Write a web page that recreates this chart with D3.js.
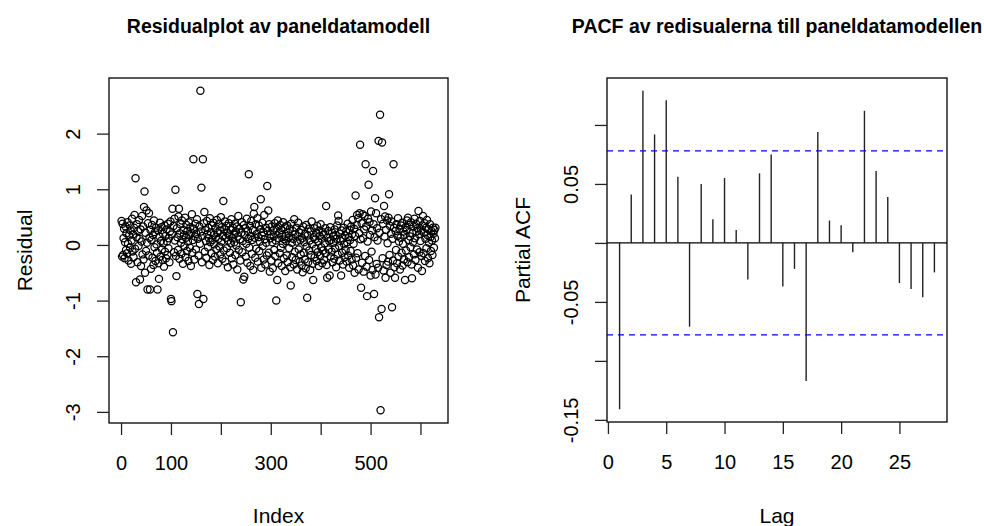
<!DOCTYPE html>
<html>
<head>
<meta charset="utf-8">
<script src="https://cdn.jsdelivr.net/npm/d3@7"></script>
<style>
  body { margin: 0; background: #fff; }
  text { font-family: "Liberation Sans", Arial, sans-serif; fill: #000; }
</style>
</head>
<body>
<svg id="chart" width="984" height="526"></svg>
<script>
"use strict";

// residuals of the panel data model, in index order (1..630)
const residuals = [
  0.43, -0.21, 0.38, -0.18, 0.12, 0.29, -0.24, 0.05, 0.33, -0.09, 0.21, -0.15, 0.41, 0.02, -0.28, 0.17, 0.35, -0.05, 0.26, -0.34, 0.08, 0.47, -0.12, 0.19, -0.22, 0.31, 0.54, -0.07, 1.20, -0.67,
  0.14, 0.37, -0.31, 0.25, -0.02, 0.45, 0.11, -0.62, 0.28, -0.38, 0.06, 0.52, -0.17, 0.33, -0.26, 0.68, 0.96, -0.50, 0.22, -0.11, 0.62, 0.04, -0.80, 0.39, -0.19, 0.57, 0.13, -0.80, 0.27, -0.43,
  0.09, 0.36, -0.23, 0.18, -0.36, 0.44, -0.04, 0.23, -0.29, 0.31, 0.01, -0.14, -0.80, 0.26, -0.33, -0.61, 0.15, 0.40, -0.21, 0.07, 0.32, -0.08, -0.27, 0.20, 0.03, -0.39, 0.35, -0.12, 0.16, -0.24,
  0.28, 0.06, -0.18, 0.38, -0.06, 0.12, -0.31, 0.24, 0.42, -0.97, -1.01, 0.19, 0.65, -1.57, 0.34, -0.13, 0.47, 0.08, 0.99, -0.20, -0.56, 0.30, 0.14, -0.09, 0.51, 0.65, -0.25, 0.21, 0.37, 0.04,
  -0.16, 0.44, 0.10, -0.34, 0.27, 0.18, -0.02, 0.49, -0.22, 0.13, 0.36, -0.11, 0.25, 0.06, -0.29, 0.41, 0.17, -0.05, 0.32, -0.38, 0.22, 0.55, -0.14, 0.09, 1.54, 0.29, -0.26, 0.15, 0.38, -0.08,
  0.20, 0.46, -0.88, 0.11, -0.19, -1.06, 0.33, 0.02, 2.77, 0.24, 1.03, -0.31, 0.16, 1.54, -0.97, 0.39, 0.59, -0.12, 0.27, 0.07, -0.23, 0.43, 0.19, -0.04, 0.31, 0.12, -0.36, 0.48, 0.05, 0.23,
  -0.15, 0.35, 0.09, -0.27, 0.40, 0.18, 0.01, -0.21, 0.30, 0.14, -0.08, 0.45, 0.22, -0.33, 0.11, 0.37, -0.03, 0.26, -0.17, 0.50, 0.06, 0.32, -0.25, 0.16, 0.79, -0.10, 0.28, 0.42, -0.30, 0.13,
  0.34, -0.06, 0.21, -0.40, 0.08, 0.39, 0.17, -0.14, 0.27, 0.03, 0.46, -0.24, 0.12, 0.31, -0.35, 0.19, 0.05, 0.38, -0.18, 0.24, -0.01, 0.33, -0.44, 0.15, 0.52, -0.09, 0.29, 0.10, -0.28, -1.03,
  0.22, 0.41, -0.13, 0.07, -0.62, 0.36, -0.57, 0.18, 0.30, -0.21, 0.02, 0.47, -0.32, 0.25, 0.11, 1.27, -0.05, 0.34, -0.38, 0.16, 0.43, -0.16, 0.09, 0.27, -0.45, 0.56, 0.68, 0.13, -0.23, 0.37,
  -0.07, 0.20, 0.48, -0.30, 0.14, 0.35, -0.11, 0.06, 0.28, 0.82, -0.41, 0.17, 0.40, -0.02, 0.23, -0.26, 0.54, 0.10, -0.35, 0.31, 0.04, -0.19, 1.06, 0.25, 0.62, -0.14, 0.37, -0.48, 0.12, 0.19,
  -0.28, 0.33, 0.05, -0.42, 0.26, 0.15, -0.09, 0.39, -0.20, 0.08, -1.00, 0.30, -0.63, 0.44, -0.33, 0.12, 0.21, -0.15, 0.36, -0.05, 0.27, -0.38, 0.18, 0.02, 0.41, -0.24, 0.10, 0.32, -0.47, 0.16,
  0.07, -0.19, 0.35, -0.31, 0.22, 0.13, -0.06, 0.29, -0.40, -0.73, 0.38, 0.04, -0.22, 0.25, 0.11, -0.35, 0.46, -0.12, 0.19, -0.27, 0.31, 0.06, -0.44, 0.15, 0.40, -0.08, 0.23, -0.30, 0.09, -0.17,
  0.27, -0.37, 0.12, -0.49, 0.33, -0.14, 0.05, -0.26, 0.20, -0.42, 0.36, -0.03, -0.95, 0.17, -0.31, 0.29, -0.10, 0.08, -0.45, 0.24, -0.18, 0.42, 0.01, -0.34, -0.63, 0.14, 0.30, -0.22, 0.10, -0.07,
  0.21, -0.29, 0.34, -0.13, 0.06, -0.38, 0.26, 0.16, -0.20, 0.37, -0.04, 0.11, -0.33, 0.23, -0.10, 0.19, -0.27, 0.03, 0.30, -0.15, 0.70, -0.36, -0.59, 0.13, 0.25, -0.08, 0.07, -0.55, 0.32, -0.21,
  0.09, -0.12, 0.22, -0.31, 0.15, 0.04, -0.25, 0.28, -0.06, 0.18, -0.40, 0.11, 0.35, -0.17, 0.53, 0.43, -0.02, -0.28, 0.20, 0.07, -0.55, 0.26, -0.14, 0.12, -0.35, 0.31, 0.01, -0.22, 0.17, -0.09,
  0.24, -0.30, 0.05, 0.38, -0.19, 0.14, -0.41, 0.27, 0.09, -0.11, 0.33, -0.26, 0.19, 0.45, -0.37, 0.02, 0.29, -0.50, 0.16, 0.89, -0.23, 0.36, 0.54, -0.15, 0.48, -0.44, 0.21, 0.57, 1.80, 0.10,
  -0.77, 0.39, -0.32, 0.55, 0.12, -0.48, 0.28, 0.52, -0.20, 1.45, 0.33, -0.39, -0.92, 0.06, 0.47, 1.08, -0.27, 0.41, 0.18, -0.55, 0.60, -0.12, 0.26, -0.45, 1.33, 0.37, -0.88, 0.14, 0.84, -0.53,
  0.57, -0.34, 0.30, 0.08, -0.41, 1.87, -1.30, 0.22, 2.34, -2.97, 0.46, -1.15, 1.84, -0.24, 0.38, -0.46, 0.70, 0.15, 0.51, -0.59, 0.27, -0.36, 0.44, 0.03, -0.30, 0.49, 0.91, -0.18, 0.34, -0.50,
  0.20, 0.42, -1.12, 0.11, -0.28, 1.45, 0.31, -0.40, -0.59, 0.25, -0.09, 0.37, -0.33, 0.16, 0.48, -0.21, 0.06, 0.29, -0.44, 0.13, 0.35, -0.14, 0.40, -0.37, 0.02, 0.24, -0.26, 0.18, -0.63, 0.32,
  -0.10, 0.27, 0.44, -0.31, 0.49, 0.09, -0.22, 0.36, 0.15, -0.04, 0.41, -0.35, -0.60, 0.21, 0.05, 0.33, -0.17, 0.47, 0.12, -0.27, 0.38, 0.24, -0.08, 0.30, -0.41, 0.61, 0.19, -0.13, 0.43, 0.07,
  0.26, -0.20, -0.47, 0.35, 0.52, -0.15, 0.22, 0.39, -0.29, 0.11, 0.31, -0.06, 0.45, 0.18, -0.24, 0.28, 0.04, -0.33, 0.37, 0.14, -0.11, 0.25, 0.08, -0.18, 0.31, 0.20, -0.05, 0.27, 0.12, 0.31
];

const indexTicks = [0, 100, 200, 300, 400, 500, 600];
const indexTickLabels = ["0", "100", "", "300", "", "500", ""];   // R drops overlapping labels
const residTicks = [-3, -2, -1, 0, 1, 2];
const residTickLabels = ["-3", "-2", "-1", "0", "1", "2"];

// partial autocorrelations, lag 1..28
const pacfValues = [-0.141, 0.041, 0.129, 0.092, 0.121, 0.056, -0.071, 0.050, 0.020, 0.055,
                    0.011, -0.031, 0.059, 0.075, -0.037, -0.022, -0.117, 0.094, 0.019, 0.015,
                    -0.008, 0.112, 0.061, 0.039, -0.034, -0.039, -0.046, -0.025];
const lags = pacfValues.map((_, i) => i + 1);
const ciBounds = [-0.078, 0.078];
const lagTicks = [0, 5, 10, 15, 20, 25];
const lagTickLabels = ["0", "5", "10", "15", "20", "25"];
const pacfTicks = [-0.15, -0.10, -0.05, 0, 0.05, 0.10];
const pacfTickLabels = ["-0.15", "", "-0.05", "", "0.05", ""];

const svg = d3.select("#chart");

// R style: data range padded by 4% on each side
function padRange(ext) {
    let d = (ext[1] - ext[0]) * 0.04;
    return [ext[0] - d, ext[1] + d];
}

function drawFrame(chart, box, title, xLab, yLab) {
    chart.append("rect")
        .attr("x", box.left).attr("y", box.top)
        .attr("width", box.right - box.left).attr("height", box.bottom - box.top)
        .attr("fill", "none").attr("stroke", "#000").attr("stroke-width", 1.3);
    let cx = (box.left + box.right) / 2;
    let cy = (box.top + box.bottom) / 2;
    chart.append("text")
        .attr("x", cx).attr("y", 33)
        .attr("text-anchor", "middle")
        .style("font-size", "19.5px").style("font-weight", "bold")
        .text(title);
    chart.append("text")
        .attr("x", cx).attr("y", 523)
        .attr("text-anchor", "middle")
        .style("font-size", "21px")
        .text(xLab);
    chart.append("text")
        .attr("transform", `translate(${box.left - 77}, ${cy}) rotate(-90)`)
        .attr("text-anchor", "middle")
        .style("font-size", "21px")
        .text(yLab);
}

function drawAxes(chart, box, scaleX, scaleY, xTicks, xLabels, yTicks, yLabels) {
    chart.append("g")
        .attr("transform", `translate(0, ${box.bottom})`)
        .call(d3.axisBottom(scaleX)
            .tickValues(xTicks)
            .tickSize(12)
            .tickSizeOuter(0)
            .tickFormat((d, i) => xLabels[i]))
        .call(g => g.select(".domain").remove())
        .call(g => g.selectAll("line").attr("stroke", "#222").attr("stroke-width", 1.3))
        .call(g => g.selectAll("text")
            .attr("y", 47).attr("dy", 0)
            .style("font-size", "20px"));

    chart.append("g")
        .attr("transform", `translate(${box.left}, 0)`)
        .call(d3.axisLeft(scaleY)
            .tickValues(yTicks)
            .tickSize(12)
            .tickSizeOuter(0)
            .tickFormat((d, i) => yLabels[i]))
        .call(g => g.select(".domain").remove())
        .call(g => g.selectAll("line").attr("stroke", "#222").attr("stroke-width", 1.3))
        .call(g => g.selectAll("text")
            .attr("x", 0).attr("dy", 0)
            .attr("text-anchor", "middle")
            .attr("transform", "translate(-29, 0) rotate(-90)")
            .style("font-size", "20px"));
}

// ---- left panel: residual plot ----
const box1 = { left: 109, right: 448, top: 78, bottom: 423 };
const scatter = svg.append("g");
const x1 = d3.scaleLinear()
    .domain(padRange([1, residuals.length]))
    .range([box1.left, box1.right]);
const y1 = d3.scaleLinear()
    .domain(padRange(d3.extent(residuals)))
    .range([box1.bottom, box1.top]);

scatter.append("g")
    .selectAll("circle")
    .data(residuals)
    .join("circle")
    .attr("cx", (d, i) => x1(i + 1))
    .attr("cy", d => y1(d))
    .attr("r", 3.6)
    .attr("fill", "none")
    .attr("stroke", "#000")
    .attr("stroke-width", 1.25);

drawFrame(scatter, box1, "Residualplot av paneldatamodell", "Index", "Residual");
drawAxes(scatter, box1, x1, y1, indexTicks, indexTickLabels, residTicks, residTickLabels);

// ---- right panel: PACF ----
const box2 = { left: 607, right: 947, top: 78, bottom: 422 };
const pacf = svg.append("g");
const x2 = d3.scaleLinear()
    .domain(padRange(d3.extent(lags)))
    .range([box2.left, box2.right]);
const y2 = d3.scaleLinear()
    .domain(padRange([Math.min(d3.min(pacfValues), ciBounds[0]), Math.max(d3.max(pacfValues), ciBounds[1])]))
    .range([box2.bottom, box2.top]);

pacf.append("line")
    .attr("x1", box2.left).attr("x2", box2.right)
    .attr("y1", y2(0)).attr("y2", y2(0))
    .attr("stroke", "#000").attr("stroke-width", 1.3);

pacf.append("g")
    .selectAll("line")
    .data(pacfValues)
    .join("line")
    .attr("x1", (d, i) => x2(lags[i]))
    .attr("x2", (d, i) => x2(lags[i]))
    .attr("y1", y2(0))
    .attr("y2", d => y2(d))
    .attr("stroke", "#222")
    .attr("stroke-width", 1.4);

pacf.append("g")
    .selectAll("line")
    .data(ciBounds)
    .join("line")
    .attr("x1", box2.left).attr("x2", box2.right)
    .attr("y1", d => y2(d)).attr("y2", d => y2(d))
    .attr("stroke", "#0000ff")
    .attr("stroke-width", 1.2)
    .attr("stroke-dasharray", "6, 5");

drawFrame(pacf, box2, "PACF av redisualerna till paneldatamodellen", "Lag", "Partial ACF");
drawAxes(pacf, box2, x2, y2, lagTicks, lagTickLabels, pacfTicks, pacfTickLabels);
</script>
</body>
</html>
